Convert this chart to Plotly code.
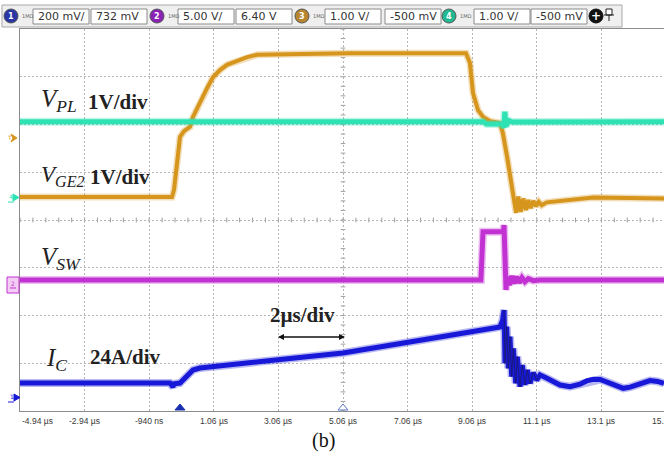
import plotly.graph_objects as go

# ---- time base and screen geometry (2 us/div, 10 div shown, 8 vertical div) ----
T0 = -4.94
T_DIV = 2.0
T_END = 14.998
Y_MIN, Y_MAX = -4, 4

tick_vals = [-4.94, -2.94, -0.94, 1.06, 3.06, 5.06, 7.06, 9.06, 11.06, 13.06, 15.06]
tick_text = ["-4.94 µs", "-2.94 µs", "-940 ns", "1.06 µs", "3.06 µs", "5.06 µs",
             "7.06 µs", "9.06 µs", "11.1 µs", "13.1 µs", "15.1 µs"]

# ---- waveforms: time in us, level in screen divisions ----
vpl_t = [-4.94, 9.40, 9.50, 10.00, 10.04, 10.07, 10.11, 10.17, 10.30, 14.998]
vpl_d = [2.06, 2.06, 2.01, 2.01, 1.93, 2.27, 1.96, 2.09, 2.05, 2.06]

vge_t = [-4.94, -0.234, -0.172, -0.048, 0.014, 0.137, 0.323, 0.416, 0.633, 0.850,
         1.035, 1.252, 1.469, 1.716, 2.088, 2.398, 3.017, 3.729, 5.277, 8.868,
         8.99, 9.085, 9.24, 9.395, 9.61, 9.92, 9.98, 10.01, 10.14, 10.23, 10.32,
         10.42, 10.487, 10.562, 10.642, 10.726, 10.797, 10.871, 10.952, 11.035,
         11.119, 11.212, 11.367, 12.19, 12.81, 14.998]
vge_d = [0.48, 0.48, 0.63, 1.47, 1.74, 1.86, 1.95, 2.16, 2.47, 2.76,
         2.99, 3.14, 3.25, 3.31, 3.41, 3.46, 3.47, 3.48, 3.49, 3.49,
         3.29, 2.66, 2.30, 2.16, 2.07, 2.03, 1.88, 1.82, 1.32, 0.90, 0.48,
         0.15, 0.49, 0.17, 0.45, 0.21, 0.42, 0.25, 0.40, 0.29,
         0.38, 0.31, 0.37, 0.42, 0.47, 0.45]

vsw_t = [-4.94, 9.33, 9.395, 10.03, 10.045, 10.076, 10.107, 10.128, 10.209, 10.283,
         10.354, 10.437, 10.518, 10.601, 10.694, 10.797, 10.952, 11.159, 14.998]
vsw_d = [-1.257, -1.257, -0.245, -0.245, -0.105, -1.10, -1.466, -1.187, -1.361, -1.173,
         -1.326, -1.187, -1.313, -1.208, -1.292, -1.229, -1.271, -1.257, -1.257]

ic_t = [-4.94, -0.296, -0.203, -0.17, 0.014, 0.416, 0.633, 3.110, 5.06, 8.063,
        9.611, 9.92, 10.0, 10.045, 10.076, 10.128, 10.178, 10.230, 10.283, 10.333,
        10.407, 10.456, 10.54, 10.611, 10.695, 10.766, 10.85, 10.952, 11.057, 11.159,
        11.36, 11.571, 11.78, 12.088, 12.40, 12.60, 12.810, 13.02, 13.22, 13.48,
        13.738, 13.95, 14.15, 14.36, 14.565, 14.80, 14.998]
ic_d = [-3.414, -3.414, -3.497, -3.43, -3.414, -3.141, -3.099, -2.932, -2.785, -2.450,
        -2.262, -2.241, -2.10, -1.885, -3.001, -2.235, -3.106, -2.444, -3.282, -2.687,
        -3.420, -2.863, -3.491, -3.037, -3.455, -3.141, -3.420, -3.198, -3.351, -3.246,
        -3.31, -3.386, -3.455, -3.491, -3.44, -3.37, -3.336, -3.34, -3.386, -3.47,
        -3.525, -3.50, -3.455, -3.39, -3.364, -3.38, -3.420]

C_BLUE = "#1818d8"
C_MAG = "#c232d2"
C_GOLD = "#d6951c"
C_TEAL = "#2fe2b4"

# ---- page layout in pixels ----
W, H = 664, 460
PL, PT, PW, PH = 20, 29, 644, 382


def px(x):
    return (x - PL) / PW


def py(y):
    return (PT + PH - y) / PH


fig = go.Figure()


def add_wave(t, d, color, width):
    # soft halo for the noisy band, then the trace itself
    fig.add_trace(go.Scatter(x=t, y=d, mode="lines", line=dict(color=color, width=width + 3),
                             opacity=0.3, hoverinfo="skip", showlegend=False))
    fig.add_trace(go.Scatter(x=t, y=d, mode="lines", line=dict(color=color, width=width),
                             hoverinfo="skip", showlegend=False))


add_wave(vge_t, vge_d, C_GOLD, 4)
add_wave(vpl_t, vpl_d, C_TEAL, 5)
add_wave(vsw_t, vsw_d, C_MAG, 5)
add_wave(ic_t, ic_d, C_BLUE, 5)
# dark ringing strands in the current after turn-off
ring0 = ic_t.index(10.045)
ring1 = ic_t.index(11.159) + 1
fig.add_trace(go.Scatter(x=ic_t[ring0:ring1], y=ic_d[ring0:ring1], mode="lines",
                         line=dict(color="#1a1a66", width=0.8), hoverinfo="skip", showlegend=False))

shapes = []
# minor ticks on the centre graticule lines
k = 0
while T0 + 0.4 * k < T_END:
    t = T0 + 0.4 * k
    shapes.append(dict(type="line", xref="x", yref="y", x0=t, x1=t, y0=-0.05, y1=0.05,
                       line=dict(color="#9a9a9a", width=1), layer="below"))
    k += 1
for k in range(-20, 21):
    d = 0.2 * k
    shapes.append(dict(type="line", xref="x", yref="y", x0=5.06 - 0.07, x1=5.06 + 0.07, y0=d, y1=d,
                       line=dict(color="#9a9a9a", width=1), layer="below"))


def rect_px(x0, y0, x1, y1, fill, line, lw=1):
    shapes.append(dict(type="rect", xref="paper", yref="paper", x0=px(x0), x1=px(x1),
                       y0=py(y1), y1=py(y0), fillcolor=fill, line=dict(color=line, width=lw)))


def circ_px(cx, cy, r, fill, line=None):
    shapes.append(dict(type="circle", xref="paper", yref="paper", x0=px(cx - r), x1=px(cx + r),
                       y0=py(cy + r), y1=py(cy - r), fillcolor=fill,
                       line=dict(color=line or fill, width=1)))


def path_px(points, fill, line, lw=1, closed=True):
    p = "M " + " L ".join(f"{px(x):.5f},{py(y):.5f}" for x, y in points) + (" Z" if closed else "")
    shapes.append(dict(type="path", xref="paper", yref="paper", path=p, fillcolor=fill,
                       line=dict(color=line, width=lw)))


annotations = []


def text_px(x, y, s, size, color="#222", family="Liberation Serif", xanchor="left", yanchor="middle"):
    annotations.append(dict(xref="paper", yref="paper", x=px(x), y=py(y), text=s, showarrow=False,
                            xanchor=xanchor, yanchor=yanchor,
                            font=dict(family=family, size=size, color=color)))


# ---- channel header bar ----
rect_px(2, 5, 622, 27, "#efefef", "#a8a8a8")
header = [
    (11, "#2a36a6", "1", (33, "200 mV/"), (91, "732 mV")),
    (157, "#8a22b6", "2", (178, "5.00 V/"), (236, "6.40 V")),
    (302, "#b8862e", "3", (325, "1.00 V/"), (385, "-500 mV")),
    (449, "#22b892", "4", (474, "1.00 V/"), (531, "-500 mV")),
]
for cx, col, num, b1, b2 in header:
    circ_px(cx, 16, 7, col, "#555")
    text_px(cx, 16.5, f"<b>{num}</b>", 8, "white", "DejaVu Sans", xanchor="center")
    text_px(cx + 9, 16, "1MΩ", 5, "#666", "DejaVu Sans")
    for bx, label in (b1, b2):
        rect_px(bx, 9, bx + 56, 24, "white", "#8a8a8a")
        text_px(bx + 3, 16.5, label, 11, "#333", "DejaVu Sans")
circ_px(596, 16, 7, "#111")
text_px(596, 16, "<b>+</b>", 12, "white", "DejaVu Sans", xanchor="center")
rect_px(606, 9, 612, 15, "white", "#222")
path_px([(609, 15), (609, 21)], None, "#222", 1, closed=False)
path_px([(604, 15), (614, 15)], None, "#222", 1, closed=False)

# ---- left-side channel markers ----
text_px(5, 137, "T", 6, C_GOLD, "DejaVu Sans")
path_px([(11, 134), (17, 138), (11, 142), (13, 138)], C_GOLD, C_GOLD)
path_px([(13, 194), (19, 197.5), (13, 201)], C_TEAL, C_TEAL)
text_px(7, 196, "4", 6, C_TEAL, "DejaVu Sans")
path_px([(8, 202), (14, 202)], None, C_TEAL, 1, closed=False)
rect_px(7, 277, 19, 293, "#f3cdf3", C_MAG)
text_px(9, 283, "2", 6, C_MAG, "DejaVu Sans")
path_px([(10, 288), (16, 288)], None, C_MAG, 1, closed=False)
path_px([(14, 394), (20, 397.5), (14, 401)], C_BLUE, C_BLUE)
text_px(8, 396, "1", 6, C_BLUE, "DejaVu Sans")
path_px([(8, 402), (14, 402)], None, C_BLUE, 1, closed=False)

# ---- trigger / time markers on the bottom edge ----
path_px([(175, 410), (180, 404), (185, 410)], "#1a2fb0", "#1a2fb0")
path_px([(338, 410), (343, 404), (348, 410)], "white", "#5a78c8")

# ---- time-axis labels ----
span = T_END - T0
for i, (tv, tt) in enumerate(zip(tick_vals, tick_text)):
    annotations.append(dict(xref="paper", yref="paper", x=(tv - T0) / span if i else 0.0, y=py(421),
                            text=tt, showarrow=False, xanchor="left" if i == 0 else "center",
                            yanchor="middle", font=dict(family="Liberation Sans", size=8.5, color="#3a3a3a")))

# ---- signal labels ----
text_px(39, 101, "<i>V</i><sub><i>PL</i></sub>", 25)
text_px(86, 102, "<b>1V/div</b>", 21)
text_px(39, 176, "<i>V</i><sub><i>GE2</i></sub>", 23)
text_px(88, 177, "<b>1V/div</b>", 21)
text_px(39, 258, "<i>V</i><sub><i>SW</i></sub>", 25)
text_px(44, 359, "<i>I</i><sub><i>C</i></sub>", 25)
text_px(88, 357, "<b>24A/div</b>", 21)
text_px(268, 315, "<b>2µs/div</b>", 21)
text_px(323, 440, "(b)", 20, "#111", xanchor="center")

# 2 us scale arrow spanning one division
for x_tip, x_tail in ((278, 345), (345, 278)):
    annotations.append(dict(xref="paper", yref="paper", x=px(x_tip), y=py(337),
                            ax=x_tail - x_tip, ay=0, axref="pixel", ayref="pixel",
                            text="", showarrow=True, arrowhead=2,
                            arrowsize=1, arrowwidth=1.2, arrowcolor="#111"))

grid = dict(showgrid=True, gridcolor="#b5b5b5", gridwidth=1, griddash="2px,2px", zeroline=False,
            showticklabels=False, ticks="")
fig.update_layout(
    width=W, height=H,
    margin=dict(l=PL, r=W - PL - PW, t=PT, b=H - PT - PH),
    paper_bgcolor="white", plot_bgcolor="white",
    xaxis=dict(range=[T0, T_END], tickvals=tick_vals, showline=True, linecolor="#8c8c8c",
               linewidth=1, mirror=True, **grid),
    yaxis=dict(range=[Y_MIN, Y_MAX], tick0=0, dtick=1, showline=True, linecolor="#8c8c8c",
               linewidth=1, **grid),
    shapes=shapes, annotations=annotations, showlegend=False,
)

fig.write_html("out.html")
